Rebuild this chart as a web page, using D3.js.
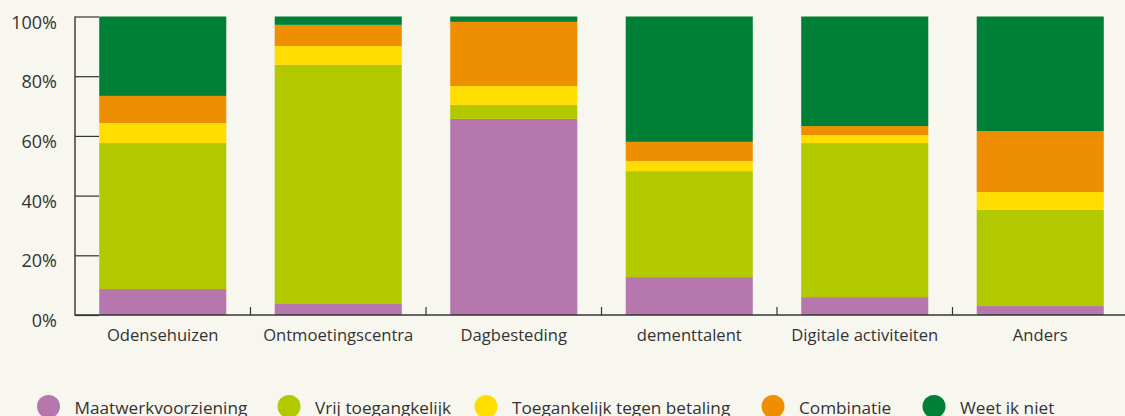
<!DOCTYPE html>
<html><head><meta charset="utf-8">
<script src="https://cdn.jsdelivr.net/npm/d3@7"></script>
<style>
html,body{margin:0;padding:0;background:#f7f6ef;}
svg{display:block;}
text{font-family:"Open Sans","Noto Sans",sans-serif;fill:#333;}
</style></head>
<body>
<svg id="chart" width="1125" height="416"></svg>
<script>
const categories = ["Odensehuizen","Ontmoetingscentra","Dagbesteding","dementtalent","Digitale activiteiten","Anders"];
const seriesNames = ["Maatwerkvoorziening","Vrij toegangkelijk","Toegankelijk tegen betaling","Combinatie","Weet ik niet"];
const maatwerk = [8.7, 3.7, 65.7, 12.7, 6.0, 3.0];
const vrij = [48.9, 80.1, 4.7, 35.5, 51.6, 32.2];
const betaling = [6.7, 6.3, 6.3, 3.4, 2.7, 6.0];
const combinatie = [9.1, 7.1, 21.5, 6.4, 3.0, 20.4];
const weetNiet = [26.6, 2.8, 1.8, 42.0, 36.7, 38.4];
const colors = ["#b577ae","#b2c900","#ffdd00","#ed8f00","#008037"];
const yTicks = [0,20,40,60,80,100];

const seriesVals = [maatwerk, vrij, betaling, combinatie, weetNiet];
const rows = categories.map((c,i)=>{const r={cat:c}; seriesNames.forEach((s,j)=>r[s]=seriesVals[j][i]); return r;});
const stack = d3.stack().keys(seriesNames)(rows);

const svg = d3.select("#chart");
const x = d3.scaleBand().domain(categories).range([75,1128]).paddingInner(0.276).paddingOuter(0.138);
const y = d3.scaleLinear().domain([0,100]).range([315,16.5]);

// bars
svg.append("g").selectAll("g").data(stack).join("g")
  .attr("fill",(d,i)=>colors[i])
  .selectAll("rect").data(d=>d).join("rect")
  .attr("x",d=>x(d.data.cat))
  .attr("width",x.bandwidth())
  .attr("y",d=>y(d[1]))
  .attr("height",d=>y(d[0])-y(d[1]));

// y axis
const yAxis = svg.append("g").attr("transform","translate(75,0)")
  .call(d3.axisRight(y).tickValues(yTicks).tickSize(24).tickFormat(""));
yAxis.select(".domain").remove();
yAxis.selectAll("line").attr("stroke","#333").attr("stroke-width",1.2);
svg.append("line").attr("x1",75).attr("x2",75).attr("y1",y(100)).attr("y2",y(0)+0.5).attr("stroke","#333").attr("stroke-width",1.4);
svg.append("g").selectAll("text").data(yTicks).join("text")
  .attr("x",57).attr("y",d=>y(d)+12).attr("text-anchor","end")
  .style("font-size","18px")
  .text(d=>d+"%");

// x axis
const bounds = categories.map(c=>x(c)-x.step()*x.paddingInner()/2).slice(1);
svg.append("line").attr("x1",75).attr("x2",1125).attr("y1",y(0)).attr("y2",y(0)).attr("stroke","#333").attr("stroke-width",1.4);
svg.append("g").selectAll("line").data(bounds).join("line")
  .attr("x1",d=>d).attr("x2",d=>d).attr("y1",y(0)).attr("y2",y(0)-8)
  .attr("stroke","#333").attr("stroke-width",1.2);
svg.append("g").selectAll("text").data(categories).join("text")
  .attr("x",c=>x(c)+x.bandwidth()/2).attr("y",341).attr("text-anchor","middle")
  .style("font-size","16.6px").text(c=>c);

// legend
const legendX = [48.5,289,486,773,934];
const lg = svg.append("g").selectAll("g").data(seriesNames).join("g")
  .attr("transform",(d,i)=>`translate(${legendX[i]},406.5)`);
lg.append("circle").attr("r",11.5).attr("fill",(d,i)=>colors[i]);
lg.append("text").attr("x",26).attr("y",7).style("font-size","17.2px").text(d=>d);
</script>
</body></html>
